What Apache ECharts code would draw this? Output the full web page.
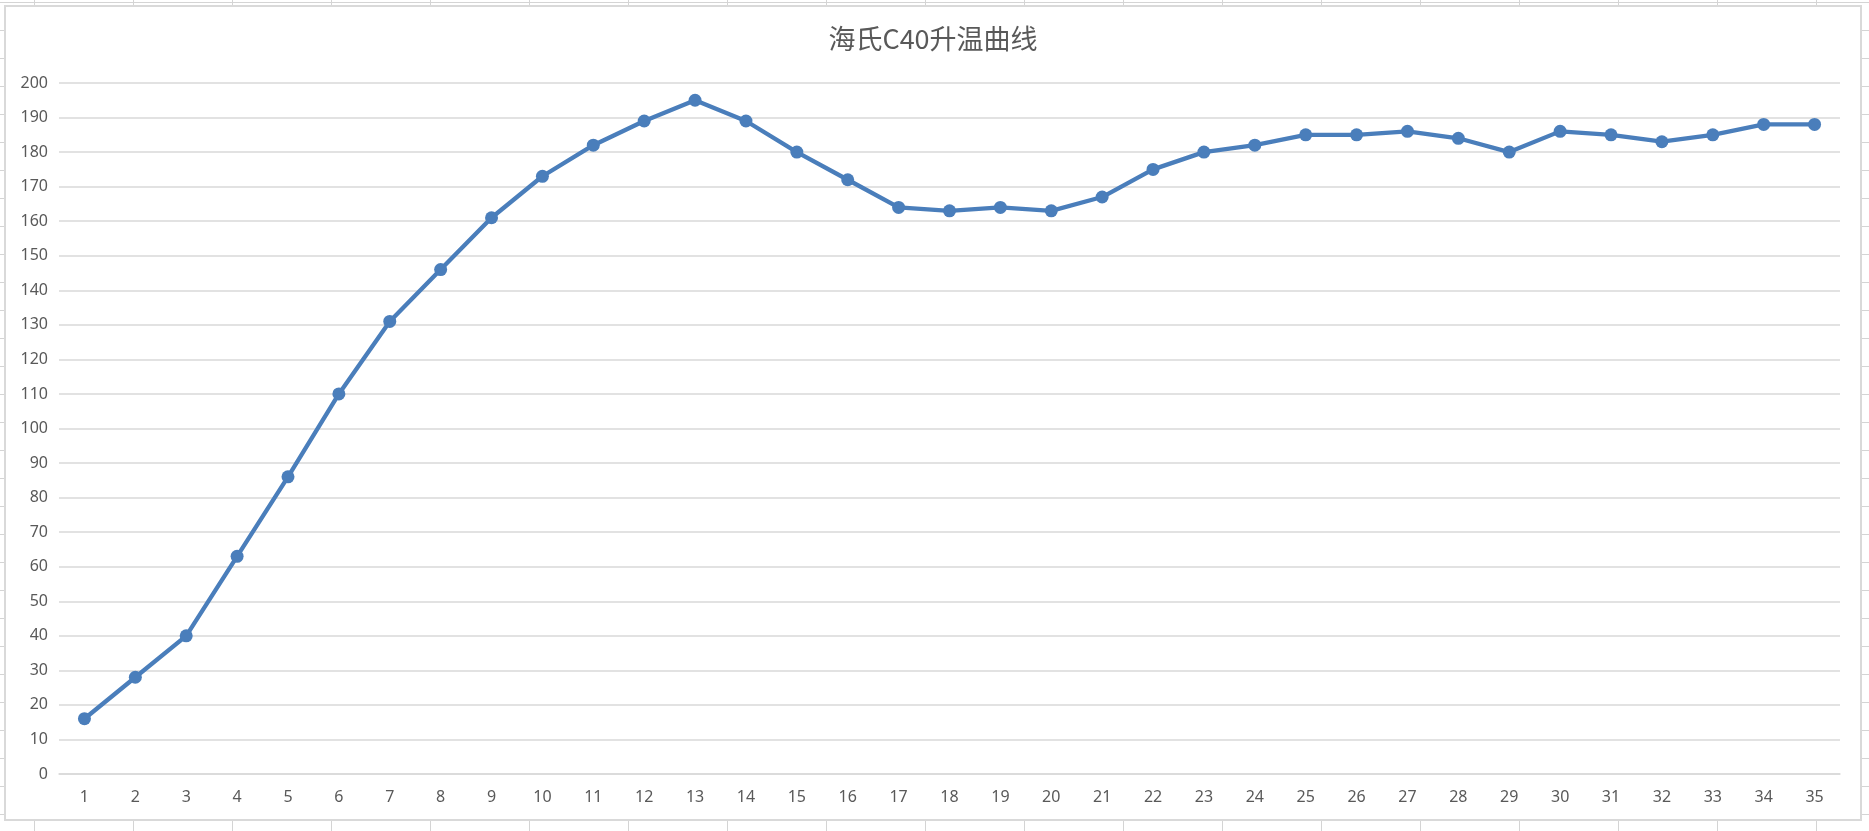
<!DOCTYPE html>
<html>
<head>
<meta charset="utf-8">
<script src="https://cdn.jsdelivr.net/npm/echarts@6/dist/echarts.min.js"></script>
<style>
  html, body { margin: 0; padding: 0; width: 1869px; height: 831px; overflow: hidden; background: #ffffff; }
  #sheet {
    position: absolute; left: 0; top: 0; width: 1869px; height: 831px;
    background-image:
      repeating-linear-gradient(to right, transparent 0px, transparent 33px, #d4d4d4 33px, #d4d4d4 34px, transparent 34px, transparent 99px),
      repeating-linear-gradient(to bottom, transparent 0px, transparent 2px, #d4d4d4 2px, #d4d4d4 3px, transparent 3px, transparent 28px);
    background-position: 1px 0, 0 0;
  }
  #chart {
    position: absolute; left: 4px; top: 5px; width: 1858px; height: 816px;
    box-sizing: border-box; border: 2px solid #d9d9d9; background: #ffffff;
  }
</style>
</head>
<body>
<div id="sheet"></div>
<div id="chart"></div>
<script>
const titleText = '海氏C40升温曲线';
const categories = ['1','2','3','4','5','6','7','8','9','10','11','12','13','14','15','16','17','18','19','20','21','22','23','24','25','26','27','28','29','30','31','32','33','34','35'];
const temperatures = [16, 28, 40, 63, 86, 110, 131, 146, 161, 173, 182, 189, 195, 189, 180, 172, 164, 163, 164, 163, 167, 175, 180, 182, 185, 185, 186, 184, 180, 186, 185, 183, 185, 188, 188];
const yMin = 0, yMax = 200, yStep = 10;

const chart = echarts.init(document.getElementById('chart'), null, { renderer: 'canvas' });
chart.setOption({
  animation: false,
  backgroundColor: '#ffffff',
  title: {
    text: titleText,
    left: 'center',
    top: 13,
    textStyle: { fontFamily: '"Noto Sans CJK SC", "Noto Sans", sans-serif', fontSize: 27, fontWeight: 'normal', color: '#595959' }
  },
  grid: { left: 53, right: 20, top: 76, bottom: 45, containLabel: false },
  xAxis: {
    type: 'category',
    data: categories,
    boundaryGap: true,
    axisLine: { show: true, lineStyle: { color: '#d9d9d9', width: 1.5 } },
    axisTick: { show: false },
    axisLabel: { margin: 15, color: '#595959', fontSize: 16, fontFamily: '"Noto Sans", sans-serif', interval: 0 },
    splitLine: { show: false }
  },
  yAxis: {
    type: 'value',
    min: yMin, max: yMax, interval: yStep,
    axisLine: { show: false },
    axisTick: { show: false },
    axisLabel: { margin: 11, color: '#595959', fontSize: 16, fontFamily: '"Noto Sans", sans-serif' },
    splitLine: { show: true, lineStyle: { color: '#d9d9d9', width: 1.5 } }
  },
  series: [{
    type: 'line',
    data: temperatures,
    symbol: 'circle',
    symbolSize: 13,
    showAllSymbol: true,
    lineStyle: { color: '#4a7ebb', width: 4.3 },
    itemStyle: { color: '#4a7ebb' }
  }]
});
</script>
</body>
</html>
